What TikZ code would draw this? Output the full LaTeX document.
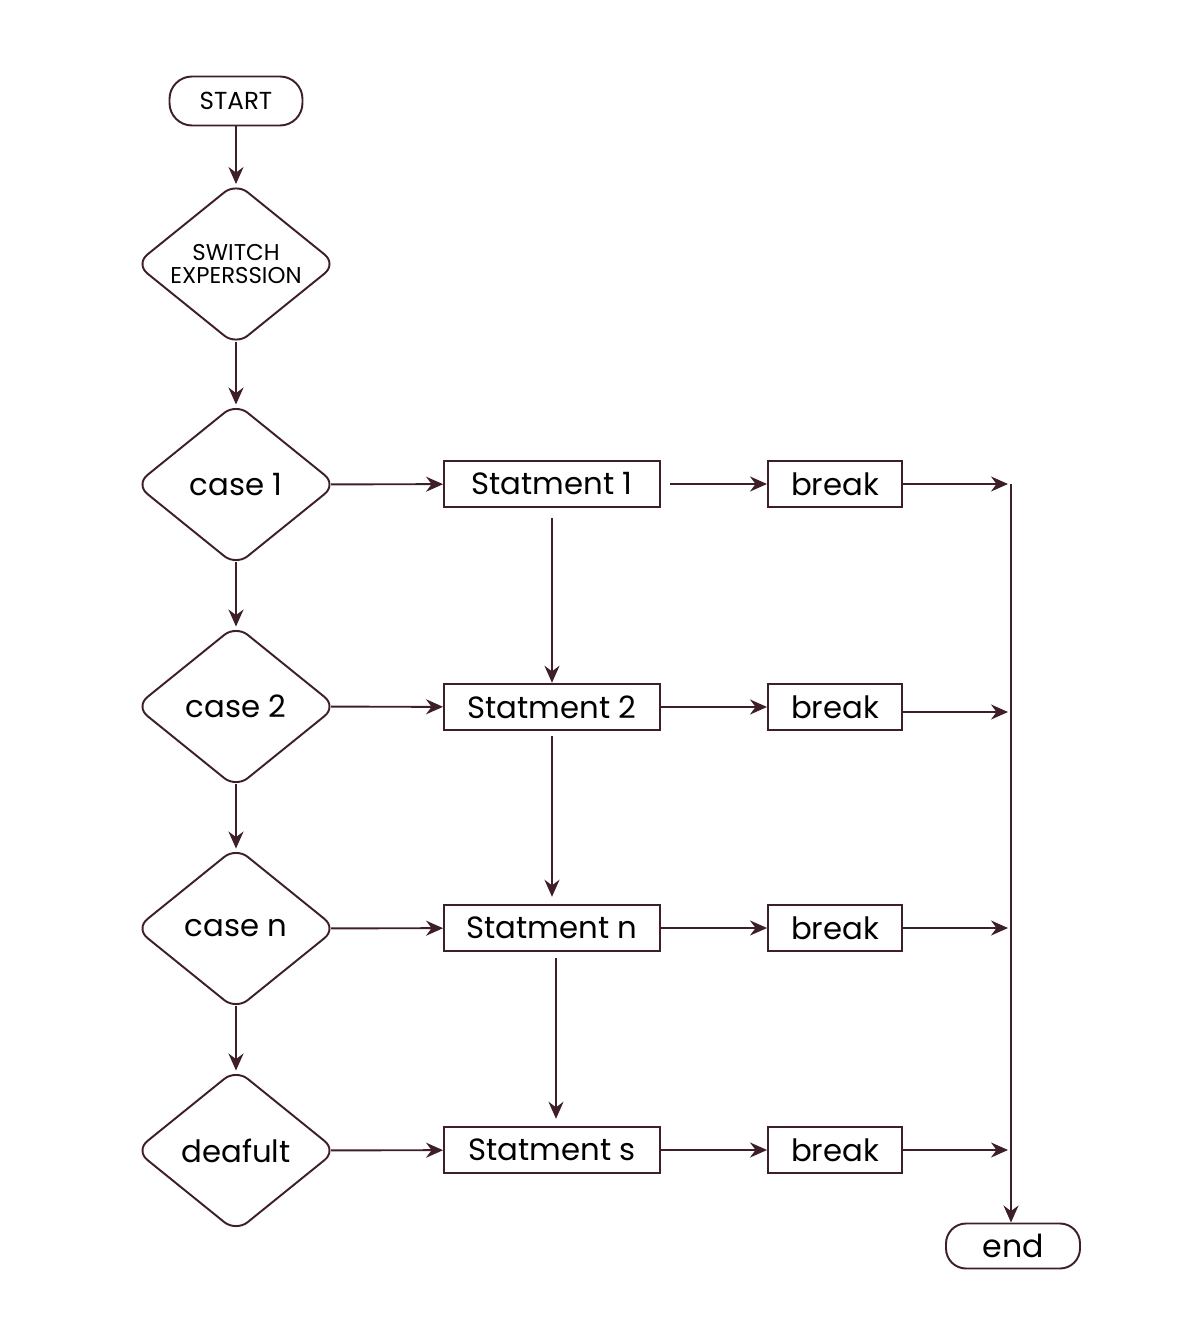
\documentclass[tikz,border=0pt]{standalone}
\usepackage{fontspec}
\setmainfont{Poppins}
\usetikzlibrary{shapes.geometric,arrows.meta}
\definecolor{ln}{HTML}{3D1E29}
\tikzset{
  every path/.style={line width=1.1pt},
  base/.style={draw=ln, line width=1.1pt, text=black, inner sep=0pt},
  term/.style={base, rounded corners=0.45cm, minimum width=2.66cm, minimum height=0.98cm},
  dec/.style={base, diamond, rounded corners=0.3cm, minimum width=4.03cm, minimum height=3.26cm, aspect=1.23},
  stmt/.style={base, rectangle, minimum width=4.32cm, minimum height=0.93cm},
  brk/.style={base, rectangle, minimum width=2.68cm, minimum height=0.93cm},
  arr/.style={draw=ln, -{Stealth[length=0.34cm, width=0.3cm]}},
  big/.style={font=\fontsize{17.5}{21}\selectfont},
  fromside/.style={shorten <=-0.13cm},
  fromtip/.style={shorten <=-0.09cm},
  totip/.style={shorten >=-0.05cm},
}
\begin{document}
\begin{tikzpicture}[x=0.02cm, y=-0.02cm]
\useasboundingbox (0,0) rectangle (1176,1334);
\node[term, font=\fontsize{14}{16}\selectfont] (start) at (236,101) {START};
\node[dec, font=\fontsize{13}{13.6}\selectfont, align=center] (sw) at (236,264) {SWITCH\\EXPERSSION};
\node[dec, big] (c1) at (236,484.5) {case 1};
\node[dec, big] (c2) at (236,706.5) {case 2};
\node[dec, big] (cn) at (236,928.5) {case n};
\node[dec, big] (df) at (236,1150.5) {deafult};

\node[stmt, big] (s1) at (552,484) {Statment 1};
\node[stmt, big] (s2) at (552,707) {Statment 2};
\node[stmt, big] (sn) at (552,928) {Statment n};
\node[stmt, big] (ss) at (552,1150) {Statment s};

\node[brk, big] (b1) at (835,484) {break};
\node[brk, big] (b2) at (835,707) {break};
\node[brk, big] (b3) at (835,928) {break};
\node[brk, big] (b4) at (835,1150) {break};

\node[term, font=\fontsize{18}{21}\selectfont, rounded corners=0.4cm, minimum width=2.68cm, minimum height=0.9cm] (end) at (1013,1246) {end};

\coordinate (top) at (1011,484);
\coordinate (j1) at (1008,484);
\coordinate (j2) at (1008,712);
\coordinate (j3) at (1008,928);
\coordinate (j4) at (1008,1150);

\draw[arr, totip] (start) -- (sw);
\draw[arr, fromtip, totip] (sw) -- (c1);
\draw[arr, fromtip, totip] (c1) -- (c2);
\draw[arr, fromtip, totip] (c2) -- (cn);
\draw[arr, fromtip, totip] (cn) -- (df);

\draw[arr, fromside] (c1) -- (s1);
\draw[arr, fromside] (c2) -- (s2);
\draw[arr, fromside] (cn) -- (sn);
\draw[arr, fromside] (df) -- (ss);

\draw[arr] ([xshift=0.18cm]s1.east) -- (b1.west);
\draw[arr] (s2) -- (b2);
\draw[arr] (sn) -- (b3);
\draw[arr] (ss) -- (b4);

\draw[arr] (b1.east) -- (j1);
\draw[arr] (b2.east |- j2) -- (j2);
\draw[arr] (b3.east) -- (j3);
\draw[arr] (b4.east) -- (j4);

\draw[arr] ([yshift=-0.2cm]s1.south) -- (s2.north);
\draw[arr] ([yshift=-0.1cm]s2.south) -- ([yshift=0.14cm]sn.north);
\draw[arr] ([xshift=0.08cm, yshift=-0.12cm]sn.south) -- ([xshift=0.08cm, yshift=0.14cm]ss.north);

\draw[arr] (top) -- (top |- end.north);
\end{tikzpicture}
\end{document}
